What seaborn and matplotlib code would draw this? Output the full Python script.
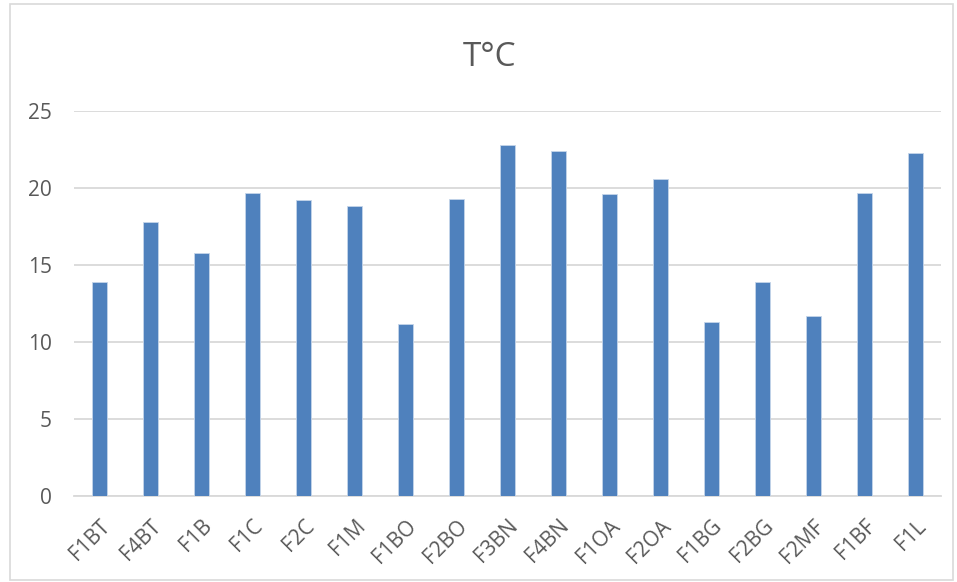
import matplotlib as mpl
import matplotlib.pyplot as plt
import seaborn as sns
import pandas as pd

mpl.use("Agg")

CATEGORIES = [
    "F1BT", "F4BT", "F1B", "F1C", "F2C", "F1M", "F1BO", "F2BO", "F3BN",
    "F4BN", "F1OA", "F2OA", "F1BG", "F2BG", "F2MF", "F1BF", "F1L",
]
TEMPS = [
    13.9, 17.8, 15.8, 19.7, 19.2, 18.8, 11.2, 19.3, 22.8,
    22.4, 19.6, 20.6, 11.3, 13.9, 11.7, 19.7, 22.3,
]
Y_TICKS = [0, 5, 10, 15, 20, 25]

BAR_COL = "#4f81bd"
TEXT_COL = "#595959"
GRID_COL = "#d9d9d9"

sns.set_style("white")
plt.rcParams["font.family"] = ["Open Sans", "DejaVu Sans"]

df = pd.DataFrame({"cat": CATEGORIES, "temp": TEMPS})

fig = plt.figure(figsize=(9.57, 5.82), dpi=100)
W, H = 957, 582
ax = fig.add_axes([74 / W, 1 - 496 / H, (941 - 74) / W, (496 - 111) / H])

sns.barplot(data=df, x="cat", y="temp", ax=ax, color=BAR_COL, width=0.31,
            saturation=1, edgecolor="#c5d5ea", linewidth=0.6, zorder=3)

ax.set_xlim(-0.5, len(CATEGORIES) - 0.5)
ax.set_ylim(0, 25)
ax.set_yticks(Y_TICKS)
ax.yaxis.grid(True, color=GRID_COL, linewidth=1.3, zorder=0)
ax.set_axisbelow(True)
for s in ["left", "right", "top"]:
    ax.spines[s].set_visible(False)
ax.spines["bottom"].set_color(GRID_COL)
ax.spines["bottom"].set_linewidth(1.3)

ax.set_xlabel("")
ax.set_ylabel("")
ax.tick_params(axis="y", length=0, pad=16, labelsize=15, labelcolor=TEXT_COL)
ax.tick_params(axis="x", length=0, pad=14, labelsize=15, labelcolor=TEXT_COL)
for lbl in ax.get_xticklabels():
    lbl.set_rotation(45)
    lbl.set_ha("right")
    lbl.set_rotation_mode("anchor")

fig.text(490 / W, 1 - 57 / H, "T°C", ha="center", va="center", fontsize=24, color=TEXT_COL)

# outer chart border
fig.add_artist(plt.Rectangle((10 / W, 2 / H), (W - 14) / W, (H - 6) / H,
                             transform=fig.transFigure, fill=False,
                             edgecolor=GRID_COL, linewidth=1.2))

fig.savefig("out.png", dpi=100)
